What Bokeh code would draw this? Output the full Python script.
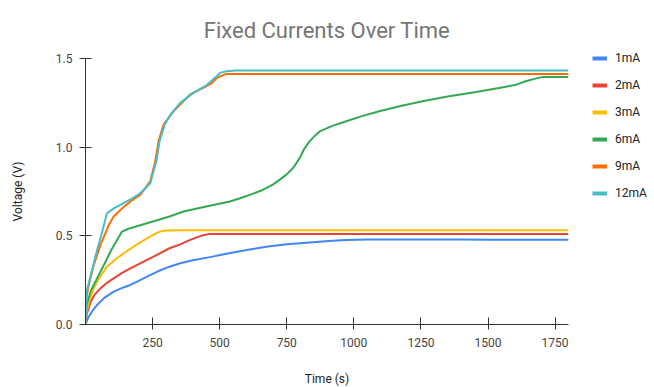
from bokeh.plotting import figure
from bokeh.models import (Legend, LegendItem, Range1d, FixedTicker,
                          NumeralTickFormatter, ColumnDataSource)
from bokeh.embed import file_html
from bokeh.resources import INLINE

# ---------------- data ----------------
series_names = ["1mA", "2mA", "3mA", "6mA", "9mA", "12mA"]
series_colors = ["#4285F4", "#EA4335", "#FBBC04", "#34A853", "#FF6D01", "#46BDC6"]

t_1ma = [0, 5, 12, 25, 43, 70, 105, 135, 167, 200, 229, 270, 313, 353, 400, 464,
         530, 600, 680, 750, 848, 920, 972, 1050, 1100, 1200, 1300, 1400, 1500,
         1600, 1700, 1800]
v_1ma = [0, 0.02, 0.044, 0.075, 0.11, 0.15, 0.185, 0.205, 0.223, 0.248, 0.27,
         0.30, 0.326, 0.345, 0.362, 0.38, 0.40, 0.42, 0.44, 0.452, 0.464, 0.472,
         0.477, 0.479, 0.48, 0.48, 0.479, 0.479, 0.478, 0.478, 0.478, 0.478]

t_2ma = [0, 5, 19, 35, 56, 80, 105, 135, 167, 200, 229, 270, 313, 353, 390, 430,
         464, 500, 700, 1000, 1300, 1600, 1800]
v_2ma = [0, 0.06, 0.128, 0.17, 0.204, 0.235, 0.26, 0.29, 0.317, 0.342, 0.364,
         0.395, 0.43, 0.452, 0.477, 0.50, 0.511, 0.51, 0.51, 0.51, 0.51, 0.51, 0.51]

t_3ma = [0, 4, 15, 31, 50, 80, 110, 142, 180, 229, 260, 278, 300, 350, 600, 1000,
         1400, 1800]
v_3ma = [0, 0.07, 0.14, 0.204, 0.26, 0.326, 0.365, 0.401, 0.44, 0.486, 0.512,
         0.524, 0.53, 0.532, 0.532, 0.532, 0.532, 0.532]

t_6ma = [0, 4, 20, 43, 70, 93, 115, 136, 160, 229, 313, 365, 450, 538, 576, 620,
         662, 700, 749, 775, 798, 815, 835, 855, 873, 920, 972, 1030, 1095, 1170,
         1260, 1355, 1450, 1541, 1600, 1640, 1680, 1701, 1750, 1800]
v_6ma = [0, 0.11, 0.19, 0.26, 0.34, 0.411, 0.47, 0.524, 0.54, 0.571, 0.609, 0.637,
         0.665, 0.694, 0.712, 0.735, 0.76, 0.79, 0.845, 0.885, 0.938, 0.99, 1.033,
         1.065, 1.089, 1.12, 1.146, 1.175, 1.203, 1.231, 1.26, 1.287, 1.31, 1.334,
         1.35, 1.372, 1.388, 1.395, 1.395, 1.395]

t_9ma = [0, 4, 12, 31, 56, 87, 105, 140, 167, 204, 241, 260, 272, 291, 328, 390,
         439, 470, 489, 510, 526, 800, 1200, 1800]
v_9ma = [0, 0.15, 0.223, 0.336, 0.449, 0.562, 0.609, 0.66, 0.694, 0.731, 0.807,
         0.92, 1.033, 1.127, 1.202, 1.297, 1.334, 1.36, 1.39, 1.405, 1.413, 1.413,
         1.413, 1.413]

t_12ma = [0, 4, 20, 40, 60, 80, 105, 130, 167, 204, 241, 264, 276, 295, 315, 353,
          402, 452, 489, 501, 526, 560, 900, 1300, 1800]
v_12ma = [0, 0.185, 0.28, 0.40, 0.51, 0.627, 0.655, 0.675, 0.705, 0.74, 0.795,
          0.92, 1.033, 1.127, 1.18, 1.25, 1.306, 1.35, 1.40, 1.419, 1.428, 1.432,
          1.432, 1.432, 1.432]

x_ticks = [250, 500, 750, 1000, 1250, 1500, 1750]
y_ticks = [0.0, 0.5, 1.0, 1.5]

title_text = "Fixed Currents Over Time"
x_title = "Time (s)"
y_title = "Voltage (V)"

all_t = [t_1ma, t_2ma, t_3ma, t_6ma, t_9ma, t_12ma]
all_v = [v_1ma, v_2ma, v_3ma, v_6ma, v_9ma, v_12ma]

# ---------------- figure ----------------
FONT = "Roboto"
p = figure(frame_width=483, frame_height=266,
           min_border_left=85, min_border_right=86,
           min_border_top=57, min_border_bottom=64,
           x_range=Range1d(0, 1800), y_range=Range1d(0, 1.5),
           output_backend="svg", toolbar_location=None)
p.outline_line_color = None
p.xgrid.grid_line_color = None
p.ygrid.grid_line_color = None
p.background_fill_color = "white"
p.border_fill_color = "white"

p.title.text = title_text
p.title.align = "center"
p.title.offset = 7
p.title.standoff = 31
p.title.text_font = FONT
p.title.text_font_size = "22px"
p.title.text_font_style = "normal"
p.title.text_color = "#757575"

for ax in (p.xaxis[0], p.yaxis[0]):
    ax.axis_line_color = "#333333"
    ax.major_tick_line_color = "#333333"
    ax.minor_tick_line_color = None
    ax.major_label_text_font = FONT
    ax.major_label_text_font_size = "12px"
    ax.major_label_text_color = "#444444"
    ax.axis_label_text_font = FONT
    ax.axis_label_text_font_size = "12px"
    ax.axis_label_text_font_style = "normal"
    ax.axis_label_text_color = "#222222"

p.xaxis.ticker = FixedTicker(ticks=x_ticks)
p.xaxis.major_tick_in = 7
p.xaxis.major_tick_out = 5
p.xaxis.major_label_standoff = 8
p.xaxis.axis_label = x_title
p.xaxis.axis_label_standoff = 22

p.yaxis.ticker = FixedTicker(ticks=y_ticks)
p.yaxis.formatter = NumeralTickFormatter(format="0.0")
p.yaxis.major_tick_in = 6
p.yaxis.major_tick_out = 6
p.yaxis.major_label_standoff = 7
p.yaxis.axis_label = y_title
p.yaxis.axis_label_standoff = 28

legend_items = []
for name, col, tt, vv in zip(series_names, series_colors, all_t, all_v):
    src = ColumnDataSource(dict(t=tt, v=vv))
    p.line("t", "v", source=src, line_color=col, line_width=2)
    # one-point renderer: draws nothing in the plot, gives a thick legend swatch
    swatch_src = ColumnDataSource(dict(t=tt[:1], v=vv[:1]))
    rl = p.line("t", "v", source=swatch_src, line_color=col, line_width=4)
    legend_items.append(LegendItem(label=name, renderers=[rl]))

legend = Legend(items=legend_items, location=(24, 124),
                padding=0, margin=0, border_line_color=None,
                background_fill_alpha=0, glyph_width=15, glyph_height=14,
                label_height=14, spacing=13, label_standoff=8,
                label_text_font=FONT, label_text_font_size="12px",
                label_text_color="#222222")
p.add_layout(legend, "right")

open("out.html", "w").write(file_html(p, INLINE))
